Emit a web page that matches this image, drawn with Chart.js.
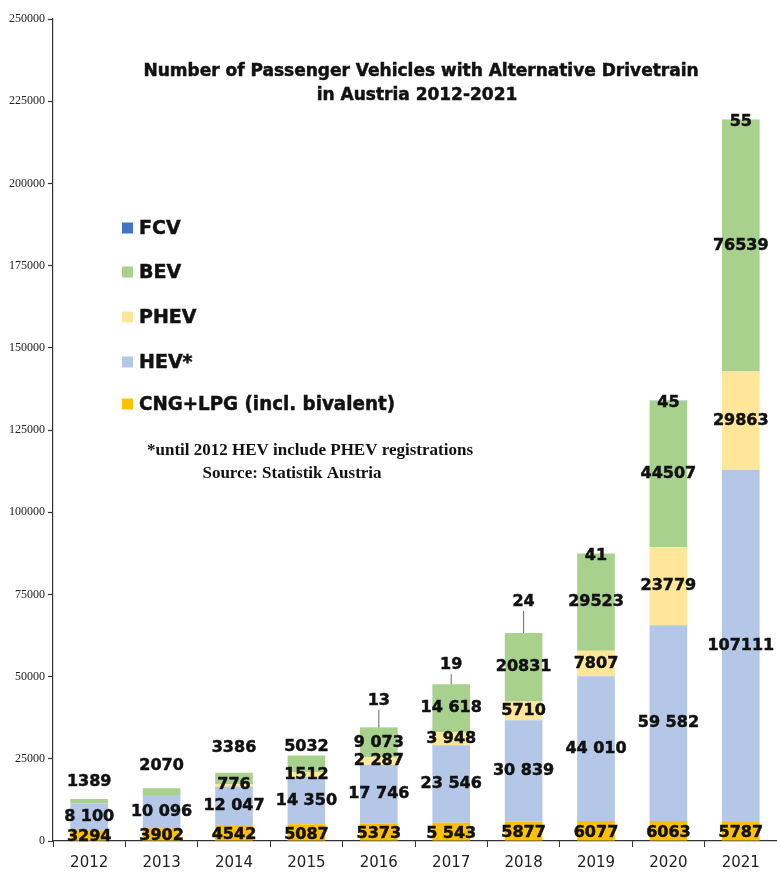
<!DOCTYPE html>
<html>
<head>
<meta charset="utf-8">
<script src="https://cdn.jsdelivr.net/npm/chart.js@4.4.1/dist/chart.umd.min.js"></script>
<style>
  html, body { margin: 0; padding: 0; background: #fff; }
  #wrap { width: 777px; height: 873px; }
</style>
</head>
<body>
<div id="wrap"><canvas id="c" width="777" height="873"></canvas></div>
<script>
// ---------- DATA ----------
const years = ['2012','2013','2014','2015','2016','2017','2018','2019','2020','2021'];
const cng  = [3294, 3902, 4542, 5087, 5373, 5543, 5877, 6077, 6063, 5787];
const hev  = [8100, 10096, 12047, 14350, 17746, 23546, 30839, 44010, 59582, 107111];
const phev = [null, null, 776, 1512, 2287, 3948, 5710, 7807, 23779, 29863];
const bev  = [1389, 2070, 3386, 5032, 9073, 14618, 20831, 29523, 44507, 76539];
const fcv  = [null, null, null, null, 13, 19, 24, 41, 45, 55];

const cngText  = ['3294','3902','4542','5087','5373','5 543','5877','6077','6063','5787'];
const hevText  = ['8 100','10 096','12 047','14 350','17 746','23 546','30 839','44 010','59 582','107111'];
const phevText = [null, null, '776','1512','2 287','3 948','5710','7807','23779','29863'];
const bevText  = ['1389','2070','3386','5032','9 073','14 618','20831','29523','44507','76539'];
const fcvText  = [null, null, null, null, '13','19','24','41','45','55'];

const seriesNames = ['CNG+LPG (incl. bivalent)', 'HEV*', 'PHEV', 'BEV', 'FCV'];
const yTicks = [0, 25000, 50000, 75000, 100000, 125000, 150000, 175000, 200000, 225000, 250000];

const titleLines = ['Number of Passenger Vehicles with Alternative Drivetrain', 'in Austria 2012-2021'];
const noteLines = ['*until 2012 HEV include PHEV registrations', 'Source: Statistik Austria'];

// ---------- STYLE ----------
const colors = ['#FFC000', '#B4C7E7', '#FFE699', '#A9D18E', '#4472C4'];
const labelFont = 'bold 16px "DejaVu Sans"';
// placement tweaks (pixels above stack top) for labels drawn outside the bars
const bevAbove = [17, 22, 25, 9, null, null, null, null, null, null];
const fcvAbove = [null, null, null, null, 27, 19, 31, -2, -2, -2];
const fcvLeader = [false, false, false, false, true, true, true, false, false, false];

const texts = [cngText, hevText, phevText, bevText, fcvText];

function boldText(ctx, t, x, y, mw) {
  ctx.lineWidth = 0.5;
  ctx.strokeStyle = '#111';
  if (mw) { ctx.strokeText(t, x, y, mw); ctx.fillText(t, x, y, mw); }
  else { ctx.strokeText(t, x, y); ctx.fillText(t, x, y); }
}

const overlay = {
  id: 'overlay',
  afterDatasetsDraw(chart) {
    const ctx = chart.ctx;
    const y = chart.scales.y;
    ctx.save();
    ctx.fillStyle = '#111';
    ctx.textAlign = 'center';
    ctx.textBaseline = 'middle';
    ctx.font = labelFont;
    chart.data.datasets.forEach((ds, di) => {
      const meta = chart.getDatasetMeta(di);
      meta.data.forEach((el, j) => {
        const t = texts[di][j];
        if (t == null || ds.data[j] == null) return;
        let total = 0;
        chart.data.datasets.forEach(d => { total += (d.data[j] || 0); });
        const topPx = y.getPixelForValue(total);
        let ly = (el.y + el.base) / 2;
        if (di === 0) ly += 2;
        if (di === 3 && bevAbove[j] != null) ly = topPx - bevAbove[j];
        if (di === 4) {
          ly = topPx - fcvAbove[j];
          if (fcvLeader[j]) {
            ctx.save();
            ctx.strokeStyle = '#666';
            ctx.lineWidth = 1;
            ctx.beginPath();
            ctx.moveTo(el.x, ly + 9);
            ctx.lineTo(el.x, topPx);
            ctx.stroke();
            ctx.restore();
          }
        }
        boldText(ctx, t, el.x, ly);
      });
    });
    ctx.restore();
  },
  afterDraw(chart) {
    const ctx = chart.ctx;
    ctx.save();
    ctx.fillStyle = '#111';
    ctx.textBaseline = 'middle';
    ctx.textAlign = 'center';
    // title
    ctx.font = 'bold 17px "DejaVu Sans"';
    boldText(ctx, titleLines[0], 421, 72, 600);
    boldText(ctx, titleLines[1], 417, 96, 217);
    // legend (reverse order)
    ctx.textAlign = 'left';
    ctx.font = 'bold 19px "DejaVu Sans"';
    const ys = [228, 272, 317, 362, 404];
    const order = [4, 3, 2, 1, 0];
    order.forEach((di, k) => {
      ctx.fillStyle = colors[di];
      ctx.fillRect(122, ys[k] - 5.5, 11, 11);
      ctx.fillStyle = '#111';
      const name = chart.data.datasets[di].label;
      const w = ctx.measureText(name).width;
      boldText(ctx, name, 139, ys[k] + 1, di === 0 ? 256 : w);
    });
    // note
    ctx.textAlign = 'center';
    ctx.font = 'bold 17px "Liberation Serif"';
    ctx.fillText(noteLines[0], 310, 451, 358);
    ctx.fillText(noteLines[1], 292, 474, 216);
    ctx.restore();
  }
};

const ds = (label, data, color) => ({
  label, data, backgroundColor: color, borderWidth: 0,
  barPercentage: 0.52, categoryPercentage: 1.0, stack: 's'
});

new Chart(document.getElementById('c'), {
  type: 'bar',
  data: {
    labels: years,
    datasets: [
      ds(seriesNames[0], cng, colors[0]),
      ds(seriesNames[1], hev, colors[1]),
      ds(seriesNames[2], phev, colors[2]),
      ds(seriesNames[3], bev, colors[3]),
      ds(seriesNames[4], fcv, colors[4])
    ]
  },
  options: {
    responsive: false,
    devicePixelRatio: 1,
    animation: false,
    layout: { padding: { top: 19, right: 0, left: 0, bottom: 0 } },
    plugins: { legend: { display: false }, title: { display: false }, tooltip: { enabled: false } },
    scales: {
      x: {
        stacked: true,
        offset: true,
        grid: { display: true, drawOnChartArea: false, offset: true, tickLength: 6, color: '#333', tickWidth: 1 },
        border: { color: '#333', width: 1.2 },
        ticks: { font: { family: 'DejaVu Sans', size: 15 }, color: '#222', padding: 7, maxRotation: 0 },
        afterFit(s) { s.height = 32; }
      },
      y: {
        stacked: true,
        min: 0, max: 250000,
        afterBuildTicks(s) { s.ticks = yTicks.map(v => ({ value: v })); },
        grid: { display: true, drawOnChartArea: false, drawTicks: true, tickLength: 5, tickWidth: 1.2, color: '#333' },
        border: { color: '#333', width: 1.2 },
        ticks: { font: { family: 'Liberation Serif', size: 12 }, color: '#222', padding: 3,
                 callback: v => String(v) },
        afterFit(s) { s.width = 53; }
      }
    }
  },
  plugins: [overlay]
});
</script>
</body>
</html>
